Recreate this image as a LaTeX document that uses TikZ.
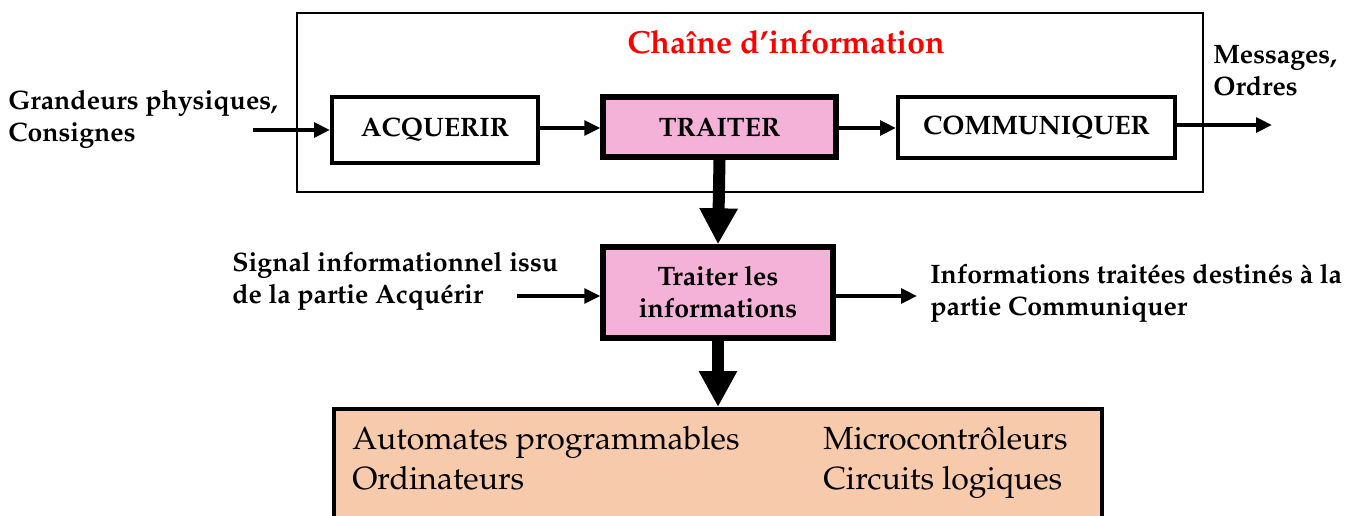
\documentclass[tikz,border=0pt]{standalone}
\usepackage[T1]{fontenc}
\usepackage{mathpazo}
\usepackage{xcolor}
\usepackage{tikz}
\usetikzlibrary{arrows.meta}
\definecolor{rose}{RGB}{244,178,216}
\definecolor{peche}{RGB}{247,202,172}
\begin{document}
\begin{tikzpicture}[
  x=0.75pt, y=-0.75pt,
  lbl/.style={font=\fontsize{20}{24}\selectfont\bfseries, align=left, inner sep=0pt},
  mtxt/.style={font=\fontsize{24}{30}\selectfont, align=left, anchor=west, inner sep=0pt},
  box/.style={draw, line width=3pt, fill=white, font=\fontsize{20}{24}\selectfont\bfseries, align=center},
  pbox/.style={box, fill=rose, line width=4pt},
  arr/.style={-{Triangle[length=12pt, width=11pt]}, line width=2.8pt},
  big/.style={-{Triangle[length=27pt, width=27pt]}, line width=9pt}
]
  \path[use as bounding box, clip] (0,0) rectangle (1358,516);
  \fill[white] (0,0) rectangle (1358,516);

  \node[draw, line width=1.5pt, minimum width=679.5pt, minimum height=134.25pt] (chaine) at (750,102.5) {};
  \node[font=\fontsize{24}{28}\selectfont\bfseries, text=red] (titre) at (786,42) {Cha\^{\i}ne d'information};

  \node[box, minimum width=154.5pt, minimum height=49.5pt]  (acq)  at (435,130)    {ACQUERIR};
  \node[pbox, minimum width=174.75pt, minimum height=45pt]  (trt)  at (719.5,127)  {TRAITER};
  \node[box, minimum width=207.75pt, minimum height=45.75pt] (com) at (1036.5,127.5) {COMMUNIQUER};
  \node[pbox, minimum width=172.5pt, minimum height=68.25pt] (ti)  at (718,292.5)  {Traiter les\\informations};
  \node[draw, line width=3pt, fill=peche, minimum width=576pt, minimum height=105pt, anchor=north] (mat) at (718,407) {};

  \node[lbl, anchor=west] (grand) at (8,119)     {Grandeurs physiques,\\Consignes};
  \node[lbl, anchor=west] (mess)  at (1213,70.5) {Messages,\\Ordres};
  \node[lbl, anchor=west] (sig)   at (232,281.5) {Signal informationnel issu\\de la partie Acqu\'erir};
  \node[lbl, anchor=west] (inf)   at (930,293)   {Informations trait\'ees destin\'es \`a la\\partie Communiquer};

  \node[mtxt] (matg) at (352,461) {\strut Automates programmables\\Ordinateurs\strut};
  \node[mtxt] (matd) at (823,461) {\strut Microcontr\^oleurs\\Circuits logiques\strut};

  \coordinate (ein) at (253,130);
  \coordinate (eout) at (1272,125);
  \coordinate (sin) at (517,296);
  \coordinate (sout) at (917,296);

  \draw[arr] (ein) -- (acq.west);
  \draw[arr] (acq.east |- 0,128) -- (trt.west |- 0,128);
  \draw[arr] (trt.east |- 0,128) -- (com.west |- 0,128);
  \draw[arr] (com.east |- eout) -- (eout);
  \draw[arr] (sin) -- (sin -| ti.west);
  \draw[arr] (sout -| ti.east) -- (sout);
  \draw[big] (trt.south) -- (ti.north);
  \draw[big] (ti.south) -- (mat.north);
\end{tikzpicture}
\end{document}
